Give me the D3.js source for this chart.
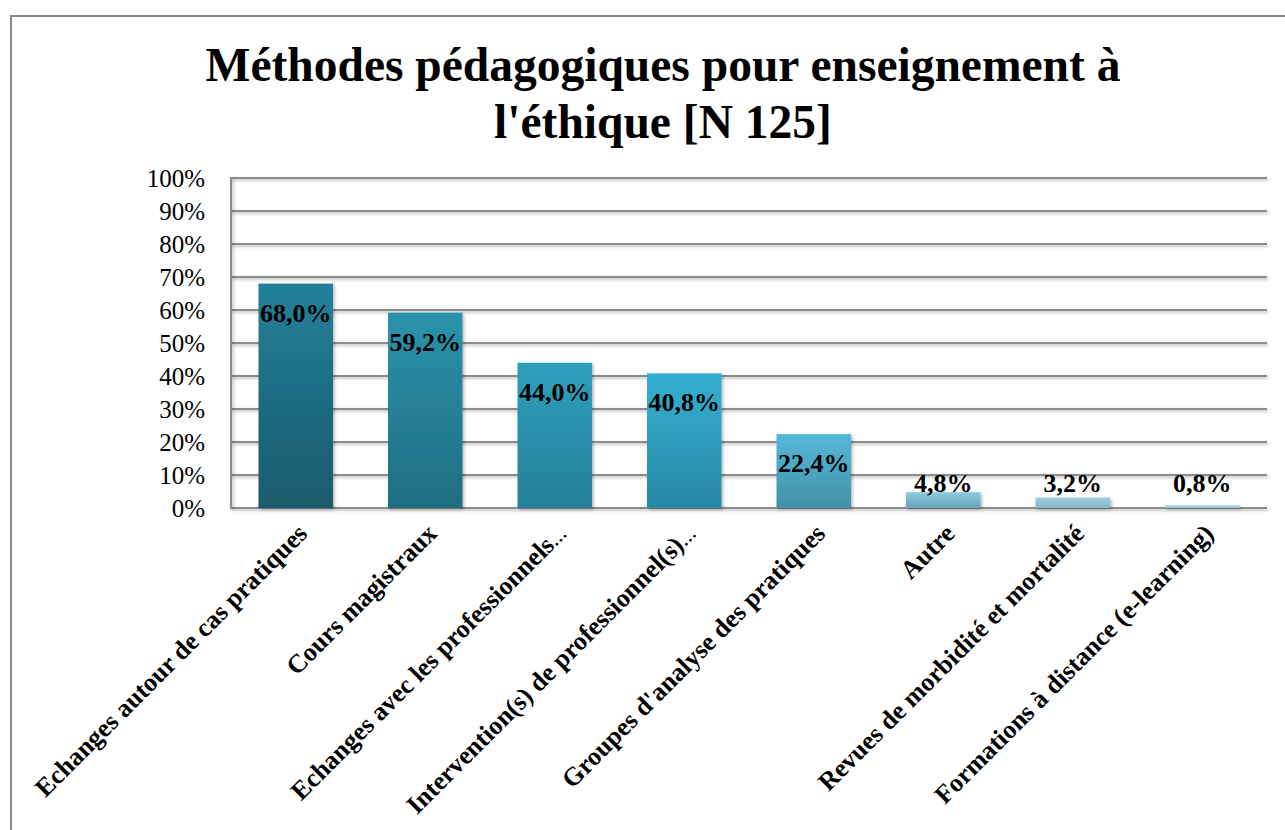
<!DOCTYPE html>
<html><head><meta charset="utf-8">
<script src="https://cdn.jsdelivr.net/npm/d3@7"></script>
<style>body{margin:0;background:#fff}svg{display:block}</style>
</head><body>
<script>
const categories = ["Echanges autour de cas pratiques","Cours magistraux","Echanges avec les professionnels…","Intervention(s) de professionnel(s)…","Groupes d'analyse des pratiques","Autre","Revues de morbidité et mortalité","Formations à distance (e-learning)"];
const values = [68.0, 59.2, 44.0, 40.8, 22.4, 4.8, 3.2, 0.8];
const yTicks = [0,10,20,30,40,50,60,70,80,90,100];
const titleLines = ["Méthodes pédagogiques pour enseignement à","l'éthique [N 125]"];
const topColors = ["#22809a","#2b93ad","#2f9fbc","#35b0d1","#56b9d8","#8ecbe0","#a0d0e2","#a8d2e0"];
const bottomColors = ["#1a5a6c","#1f6d80","#25809a","#2788a3","#4290a8","#64a2b8","#84b8ca","#98c4d4"];

const W=1285,H=830;
const svg=d3.select("body").append("svg").attr("width",W).attr("height",H);
const serif="Liberation Serif, Times New Roman, serif";
// frame
svg.append("path").attr("d","M11,830 V16 H1285").attr("fill","none").attr("stroke","#8a8a8a").attr("stroke-width",2);

const x=d3.scaleBand().domain(categories).range([231,1267]).paddingInner(0.425).paddingOuter(0.2125);
const y=d3.scaleLinear().domain([0,100]).range([508,178]);

const defs=svg.append("defs");
categories.forEach((c,i)=>{
  const g=defs.append("linearGradient").attr("id","g"+i).attr("x1",0).attr("y1",0).attr("x2",0).attr("y2",1);
  g.append("stop").attr("offset","0%").attr("stop-color",topColors[i]);
  g.append("stop").attr("offset","100%").attr("stop-color",bottomColors[i]);
});
const f=defs.append("filter").attr("id","sh").attr("filterUnits","userSpaceOnUse")
  .attr("x",0).attr("y",0).attr("width",W).attr("height",H);
f.append("feDropShadow").attr("dx",1.5).attr("dy",1.5).attr("stdDeviation",1.5).attr("flood-color","#000").attr("flood-opacity",0.3);

// gridlines
svg.append("g").selectAll("line").data(yTicks).join("line")
  .attr("x1",231).attr("x2",1267).attr("y1",d=>y(d)).attr("y2",d=>y(d))
  .attr("stroke","#8c8c8c").attr("stroke-width",2).attr("filter","url(#sh)");
// y axis line
svg.append("line").attr("x1",231).attr("x2",231).attr("y1",y(100)-1).attr("y2",y(0)+1).attr("stroke","#8c8c8c").attr("stroke-width",2).attr("filter","url(#sh)");

// y axis labels
const yAxis=d3.axisLeft(y).tickValues(yTicks).tickFormat(d=>d+"%").tickSize(0).tickPadding(26);
const ya=svg.append("g").attr("transform","translate(231,0)").call(yAxis);
ya.select(".domain").remove();
ya.selectAll("text").attr("font-family",serif).attr("font-size",25).attr("fill","#000").attr("dy","0.33em");

// bars
svg.append("g").selectAll("rect").data(values).join("rect")
  .attr("x",(d,i)=>x(categories[i])).attr("width",x.bandwidth())
  .attr("y",d=>y(d)).attr("height",d=>y(0)-y(d))
  .attr("fill",(d,i)=>"url(#g"+i+")").attr("filter","url(#sh)");

// value labels
svg.append("g").selectAll("text").data(values).join("text")
  .attr("x",(d,i)=>x(categories[i])+x.bandwidth()/2)
  .attr("y",d=>Math.min(y(d)+29,y(0)-25))
  .attr("dy","0.35em").attr("text-anchor","middle")
  .attr("font-family",serif).attr("font-weight","bold").attr("font-size",26)
  .text(d=>d.toFixed(1).replace(".",",")+"%");

// category labels
const xAxis=d3.axisBottom(x).tickSize(0).tickPadding(0);
const xa=svg.append("g").attr("transform","translate(0,508)").call(xAxis);
xa.select(".domain").remove();
xa.selectAll("text").attr("font-family",serif).attr("font-weight","bold").attr("font-size",26).attr("fill","#000")
  .attr("text-anchor","end").attr("dy",null).attr("y",null)
  .attr("transform","translate(13,27) rotate(-45)")
  .each(function(d){
    if(d.endsWith("…")){
      const t=d3.select(this); t.text(null);
      t.append("tspan").text(d.slice(0,-1));
      t.append("tspan").attr("font-size",17).text("…");
    }
  });

// title
svg.append("g").selectAll("text").data(titleLines).join("text")
  .attr("x",663).attr("y",(d,i)=>81+i*57).attr("text-anchor","middle")
  .attr("font-family",serif).attr("font-weight","bold").attr("font-size",47.5).text(d=>d);
</script>
</body></html>
